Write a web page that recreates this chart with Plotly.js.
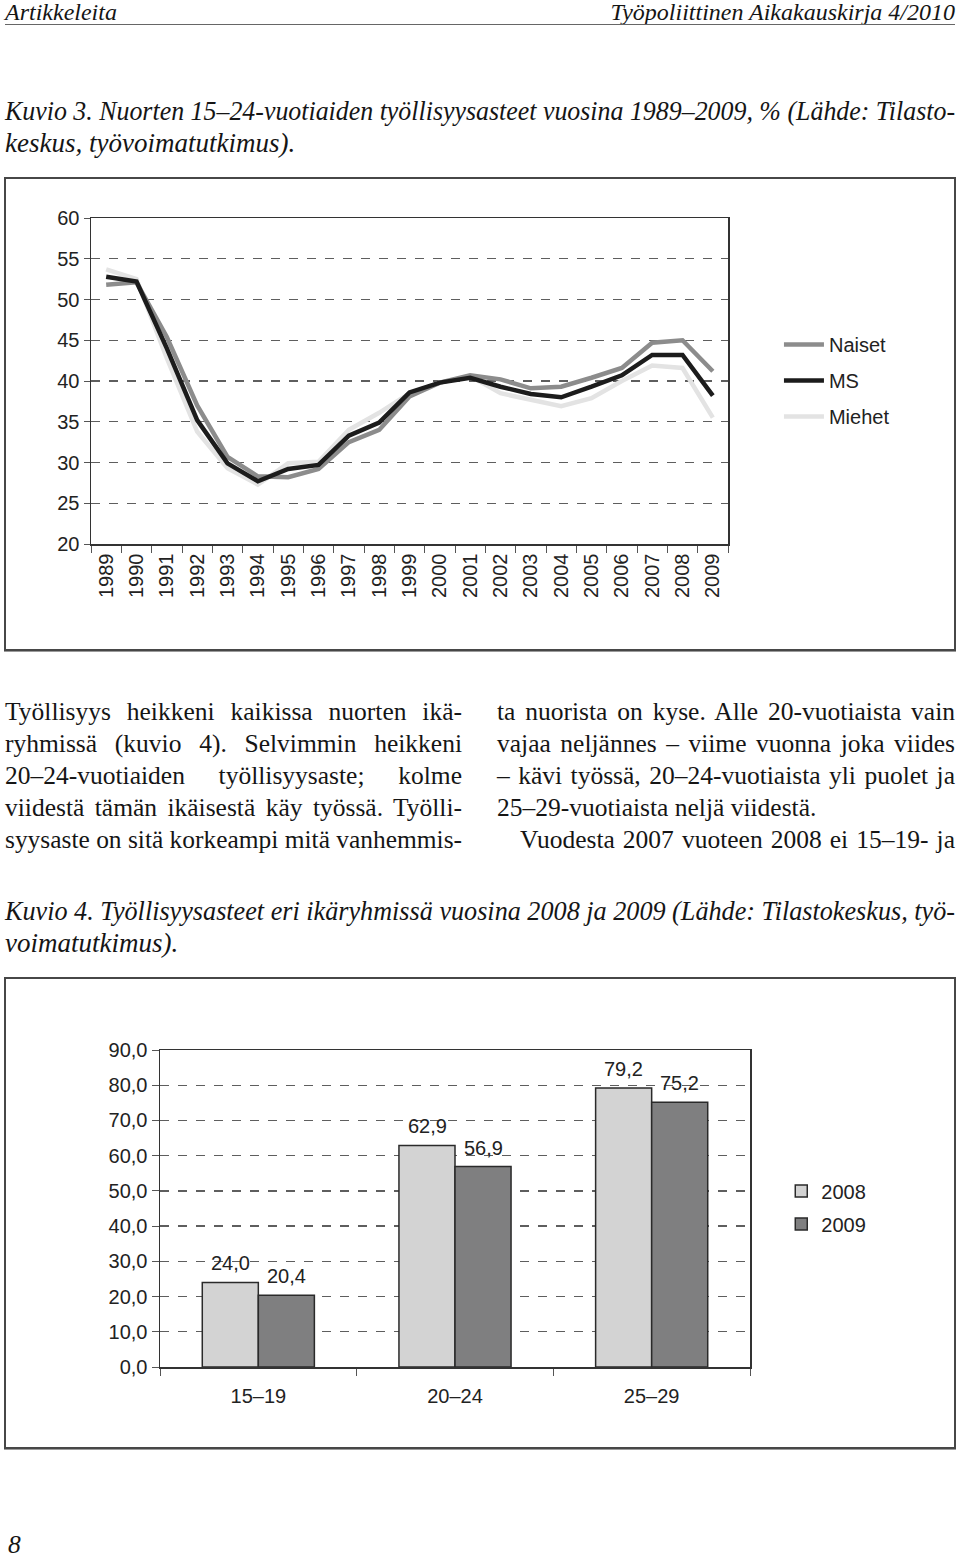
<!DOCTYPE html>
<html>
<head>
<meta charset="utf-8">
<script src="https://cdn.plot.ly/plotly-3.0.1.min.js"></script>
<style>
  body { margin: 0; background: #fff; }
  #page { position: relative; width: 960px; height: 1559px; overflow: hidden;
          font-family: "Liberation Serif", "DejaVu Serif", serif; color: #151515; }
  .ln { position: absolute; white-space: nowrap; font-size: 25.5px; line-height: 32px; height: 32px; }
  .j { text-align: justify; text-align-last: justify; transform-origin: left center; }
  .it { font-style: italic; }
  .cap { font-size: 27px; }
  .frame { position: absolute; border: 2px solid #474747; box-sizing: border-box;
           box-shadow: 0 1px 0 #9a9a9a; pointer-events: none; }
  .chart { position: absolute; }
</style>
</head>
<body>
<div id="page">
  <!-- running head -->
  <div class="ln it" style="left:5px; top:-4px; font-size:24px;">Artikkeleita</div>
  <div class="ln it" style="right:5px; top:-4px; font-size:24px;">Työpoliittinen Aikakauskirja 4/2010</div>
  <div style="position:absolute; left:5px; top:24px; width:950px; height:1px; background:#666;"></div>

  <div class="ln it j cap" style="left:5px; top:95px; width:950px;"><span>Kuvio 3. Nuorten 15–24-vuotiaiden työllisyysasteet vuosina 1989–2009, % (Lähde: Tilasto-</span></div>
  <div class="ln it cap" style="left:5px; top:127px;">keskus, työvoimatutkimus).</div>

  <div id="lineChart" class="chart" style="left:5px; top:178px; width:950px; height:472px;"></div>
  <div class="frame" style="left:4px; top:177px; width:952px; height:474px;"></div>

  <!-- body text, left column -->
  <div class="ln j" style="left:5px; top:696px; width:457px;"><span>Työllisyys heikkeni kaikissa nuorten ikä-</span></div>
  <div class="ln j" style="left:5px; top:728px; width:457px;"><span>ryhmissä (kuvio 4). Selvimmin heikkeni</span></div>
  <div class="ln j" style="left:5px; top:760px; width:457px;"><span>20–24-vuotiaiden työllisyysaste; kolme</span></div>
  <div class="ln j" style="left:5px; top:792px; width:457px;"><span>viidestä tämän ikäisestä käy työssä. Työlli-</span></div>
  <div class="ln j" style="left:5px; top:824px; width:457px;"><span>syysaste on sitä korkeampi mitä vanhemmis-</span></div>
  <!-- right column -->
  <div class="ln j" style="left:497px; top:696px; width:458px;"><span>ta nuorista on kyse. Alle 20-vuotiaista vain</span></div>
  <div class="ln j" style="left:497px; top:728px; width:458px;"><span>vajaa neljännes – viime vuonna joka viides</span></div>
  <div class="ln j" style="left:497px; top:760px; width:458px;"><span>– kävi työssä, 20–24-vuotiaista yli puolet ja</span></div>
  <div class="ln" style="left:497px; top:792px;">25–29-vuotiaista neljä viidestä.</div>
  <div class="ln j" style="left:520px; top:824px; width:435px;"><span>Vuodesta 2007 vuoteen 2008 ei 15–19- ja</span></div>

  <div class="ln it j cap" style="left:5px; top:895px; width:950px;"><span>Kuvio 4. Työllisyysasteet eri ikäryhmissä vuosina 2008 ja 2009 (Lähde: Tilastokeskus, työ-</span></div>
  <div class="ln it cap" style="left:5px; top:927px;">voimatutkimus).</div>

  <div id="barChart" class="chart" style="left:5px; top:978px; width:950px; height:470px;"></div>
  <div class="frame" style="left:4px; top:977px; width:952px; height:472px;"></div>

  <div class="ln it" style="left:8px; top:1529px;">8</div>
</div>

<script>
// Kuvio 3: employment rate of 15-24 year olds, %
const years = ['1989', '1990', '1991', '1992', '1993', '1994', '1995', '1996', '1997', '1998', '1999',
               '2000', '2001', '2002', '2003', '2004', '2005', '2006', '2007', '2008', '2009'];
const naiset = [51.8, 52.1, 45.4, 37.0, 30.7, 28.3, 28.2, 29.2, 32.5, 34.0, 38.1,
                39.8, 40.7, 40.2, 39.1, 39.3, 40.4, 41.6, 44.7, 45.0, 41.2];
const ms = [52.8, 52.2, 44.0, 35.2, 29.9, 27.7, 29.2, 29.7, 33.3, 34.9, 38.6,
            39.8, 40.4, 39.3, 38.4, 38.0, 39.3, 40.7, 43.2, 43.2, 38.2];
const miehet = [53.7, 52.5, 42.8, 33.8, 29.3, 27.3, 29.9, 30.1, 34.0, 36.1, 38.5,
                39.8, 40.6, 38.5, 37.7, 36.9, 37.9, 40.0, 41.9, 41.6, 35.5];

// Kuvio 4: employment rate by age group, 2008 and 2009
const ageGroups = ['15–19', '20–24', '25–29'];
const rate2008 = [24.0, 62.9, 79.2];
const rate2009 = [20.4, 56.9, 75.2];

const axisFont = { family: 'Liberation Sans, Arial, sans-serif', size: 20, color: '#222' };
const config = { staticPlot: true, displayModeBar: false };

function drawLineChart() {
    const line = (name, y, color, rank) => ({
        x: years, y: y, name: name, type: 'scatter', mode: 'lines',
        line: { color: color, width: 4.5 }, legendgroup: name, legendrank: rank
    });
    // light line first so the black one ends up on top
    const data = [
        line('Miehet', miehet, '#e3e3e3', 3),
        line('Naiset', naiset, '#8c8c8c', 1),
        line('MS', ms, '#1c1c1c', 2)
    ];
    const layout = {
        width: 950, height: 472,
        margin: { l: 86, r: 227, t: 40, b: 106 },
        paper_bgcolor: '#fff', plot_bgcolor: '#fff',
        font: axisFont,
        showlegend: true,
        legend: { x: 1.08, xanchor: 'left', y: 0.672, yanchor: 'top', itemwidth: 40,
                  font: axisFont, tracegroupgap: 7, bgcolor: 'rgba(0,0,0,0)' },
        xaxis: {
            type: 'category', range: [-0.5, 20.5], tickson: 'boundaries',
            ticks: 'outside', ticklen: 7, tickcolor: '#555', tickangle: -90,
            showline: true, linecolor: '#333', linewidth: 1.5, mirror: true,
            showgrid: false, tickfont: axisFont
        },
        yaxis: {
            range: [20, 60], dtick: 5, ticks: 'outside', ticklen: 6, tickcolor: '#555',
            showline: true, linecolor: '#333', linewidth: 1.5, mirror: true,
            showgrid: true, gridcolor: '#5e5e5e', gridwidth: 1.3, griddash: 'dash',
            zeroline: false, tickfont: axisFont
        }
    };
    Plotly.newPlot('lineChart', data, layout, config);
}

function drawBarChart() {
    const fmt = v => v.toFixed(1).replace('.', ',');
    const bar = (name, y, color) => ({
        x: ageGroups, y: y, name: name, type: 'bar', legendgroup: name,
        marker: { color: color, line: { color: '#2a2a2a', width: 1.5 } }
    });
    const data = [bar('2008', rate2008, '#d3d3d3'), bar('2009', rate2009, '#7f7f80')];

    const annotations = [];
    ageGroups.forEach((g, i) => {
        annotations.push({ x: g, y: rate2008[i], text: fmt(rate2008[i]), xshift: -28, yshift: 6,
                           yanchor: 'bottom', showarrow: false, font: axisFont });
        annotations.push({ x: g, y: rate2009[i], text: fmt(rate2009[i]), xshift: 28, yshift: 6,
                           yanchor: 'bottom', showarrow: false, font: axisFont });
    });

    const layout = {
        width: 950, height: 470,
        margin: { l: 155, r: 205, t: 72, b: 81 },
        paper_bgcolor: '#fff', plot_bgcolor: '#fff',
        font: axisFont,
        separators: ', ',
        barmode: 'group', bargap: 0.43, bargroupgap: 0,
        showlegend: true,
        legend: { x: 1.053, xanchor: 'left', y: 0.617, yanchor: 'top',
                  font: axisFont, tracegroupgap: 4, bgcolor: 'rgba(0,0,0,0)' },
        annotations: annotations,
        xaxis: {
            type: 'category', range: [-0.5, 2.5], tickson: 'boundaries',
            ticks: 'outside', ticklen: 7, tickcolor: '#555', ticklabelstandoff: 10,
            showline: true, linecolor: '#333', linewidth: 1.5, mirror: true,
            showgrid: false, tickfont: axisFont
        },
        yaxis: {
            range: [0, 90], dtick: 10, tickformat: '.1f', ticks: 'outside', ticklen: 7, tickcolor: '#555',
            showline: true, linecolor: '#333', linewidth: 1.5, mirror: true,
            showgrid: true, gridcolor: '#5e5e5e', gridwidth: 1.3, griddash: 'dash',
            zeroline: false, tickfont: axisFont
        }
    };
    Plotly.newPlot('barChart', data, layout, config);
}

// squeeze justified lines that are naturally wider than their column
function fitLines() {
    document.querySelectorAll('.ln.j').forEach(el => {
        const span = el.querySelector('span');
        const w = span.getBoundingClientRect().width;
        if (w > el.clientWidth + 0.5) {
            el.style.transform = 'scaleX(' + (el.clientWidth / w) + ')';
            el.style.width = w + 'px';
        }
    });
}

drawLineChart();
drawBarChart();
fitLines();
</script>
</body>
</html>
